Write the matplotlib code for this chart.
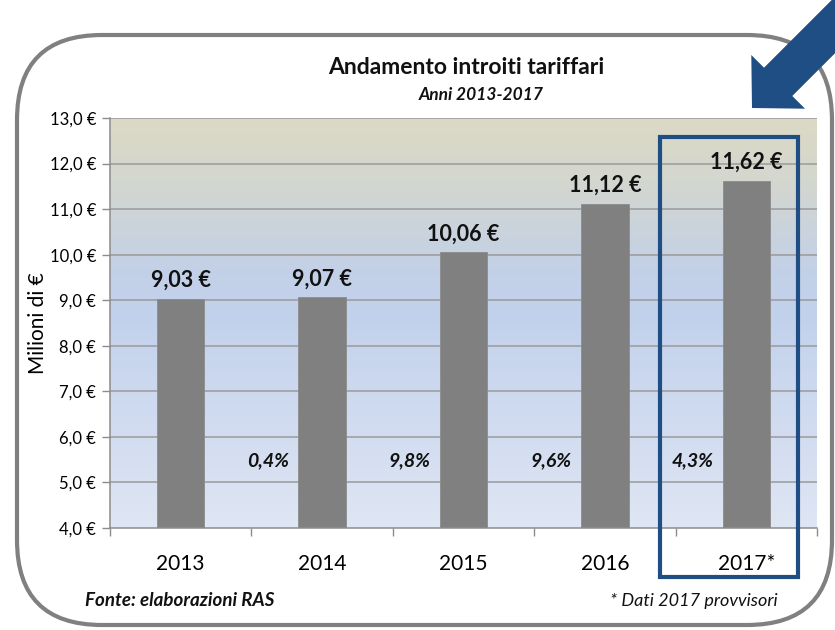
import matplotlib
matplotlib.use("Agg")
import matplotlib.pyplot as plt
import matplotlib.patches as mpatches
from matplotlib.transforms import Affine2D
from matplotlib.colors import LinearSegmentedColormap
import numpy as np

# ---- data ----
categories = ["2013", "2014", "2015", "2016", "2017*"]
values = [9.03, 9.07, 10.06, 11.12, 11.62]
value_labels = ["9,03 €", "9,07 €", "10,06 €", "11,12 €", "11,62 €"]
growth_labels = ["0,4%", "9,8%", "9,6%", "4,3%"]
y_ticks = [4, 5, 6, 7, 8, 9, 10, 11, 12, 13]
y_tick_labels = ["4,0 €", "5,0 €", "6,0 €", "7,0 €", "8,0 €", "9,0 €",
                 "10,0 €", "11,0 €", "12,0 €", "13,0 €"]

FONT = ["Lato", "DejaVu Sans"]
plt.rcParams['font.family'] = FONT

W, H = 835, 630
fig = plt.figure(figsize=(W / 100, H / 100), dpi=100)
# pixel transform (y down)
pix = Affine2D().scale(1 / W, -1 / H).translate(0, 1) + fig.transFigure

# rounded frame
frame = mpatches.FancyBboxPatch((17, 35), 815, 590,
                                boxstyle="round,pad=0,rounding_size=85",
                                transform=pix, fill=False, edgecolor="#808080",
                                linewidth=3.0, zorder=0)
fig.patches.append(frame)

# axes
L, R, T, B = 110, 817, 118, 528
ax = fig.add_axes([L / W, (H - B) / H, (R - L) / W, (B - T) / H])
ax.set_xlim(-0.5, len(categories) - 0.5)
ax.set_ylim(4, 13)

# gradient background
stops = [(0.0, "#dfe6f4"), (0.50, "#c3d2ec"), (0.62, "#c2d0e8"),
         (0.85, "#d4d7cf"), (1.0, "#dcd9c5")]
cmap = LinearSegmentedColormap.from_list("bg", stops)
grad = np.linspace(0, 1, 256).reshape(-1, 1)
ax.imshow(grad, cmap=cmap, aspect="auto", origin="lower",
          extent=(-0.5, len(categories) - 0.5, 4, 13), zorder=0)
ax.set_xlim(-0.5, len(categories) - 0.5)
ax.set_ylim(4, 13)

# grid
for yv in y_ticks[1:]:
    ax.axhline(yv, color="#9a9a9a", linewidth=1.1, zorder=1)

x = np.arange(len(categories))
ax.bar(x, values, width=0.335, bottom=0, color="#808080",
       edgecolor="#8c8c8c", linewidth=0.6, zorder=2)

for xi, v, lab in zip(x, values, value_labels):
    ax.text(xi, v + 0.40, lab, ha="center", va="center", fontsize=15.5,
            fontweight="bold", color="#111111", zorder=4)

for i, lab in enumerate(growth_labels):
    ax.text(i + 1 - 0.38, 5.47, lab, ha="center", va="center", fontsize=14,
            fontweight="bold", fontstyle="italic", color="#111111", zorder=4)

ax.set_yticks(y_ticks)
ax.set_yticklabels(y_tick_labels, fontsize=12)
ax.set_xticks(x)
ax.set_xticklabels(categories, fontsize=15)
ax.set_xticks(np.arange(len(categories) + 1) - 0.5, minor=True)
ax.tick_params(axis="x", which="major", length=0, pad=19)
ax.tick_params(axis="x", which="minor", length=6, color="#8c8c8c", width=1)
ax.tick_params(axis="y", length=6, color="#8c8c8c", width=1, pad=4)
for s in ["top", "right"]:
    ax.spines[s].set_visible(False)
for s in ["left", "bottom"]:
    ax.spines[s].set_color("#8c8c8c")
    ax.spines[s].set_linewidth(1.1)

ax.set_ylabel("Milioni di €", fontsize=15)
ax.yaxis.set_label_coords((48 - L) / (R - L), 0.5)

# highlight rectangle
hl = mpatches.Rectangle((660, 137), 138, 440, transform=pix, fill=False,
                        edgecolor="#1f4e85", linewidth=3.0, zorder=10)
fig.patches.append(hl)

# arrow
tip = np.array([752.0, 108.0])
d = np.array([-1.0, 1.0]) / np.sqrt(2)
perp = np.array([1.0, 1.0]) / np.sqrt(2)
head_len, head_w, shaft_w = 37, 76, 40
base = tip - d * head_len
tail = tip - d * 200
pts = [tip,
       base + perp * head_w / 2,
       base + perp * shaft_w / 2,
       tail + perp * shaft_w / 2,
       tail - perp * shaft_w / 2,
       base - perp * shaft_w / 2,
       base - perp * head_w / 2]
arrow = mpatches.Polygon(pts, closed=True, transform=pix,
                         facecolor="#1f4e85", edgecolor="none", zorder=11)
fig.patches.append(arrow)

# titles
fig.text(466 / W, 1 - 68 / H, "Andamento introiti tariffari", ha="center",
         va="center", fontsize=16.5, fontweight="bold", color="#111111")
fig.text(481 / W, 1 - 95 / H, "Anni 2013-2017", ha="center", va="center",
         fontsize=12.5, fontweight="bold", fontstyle="italic", color="#111111")

fig.text(85 / W, 1 - 601 / H, "Fonte: elaborazioni RAS", ha="left", va="center",
         fontsize=13.5, fontweight="bold", fontstyle="italic", color="#111111")
fig.text(778 / W, 1 - 601 / H, "* Dati 2017 provvisori", ha="right", va="center",
         fontsize=13, fontstyle="italic", color="#111111")

fig.savefig("out.png", dpi=100)
